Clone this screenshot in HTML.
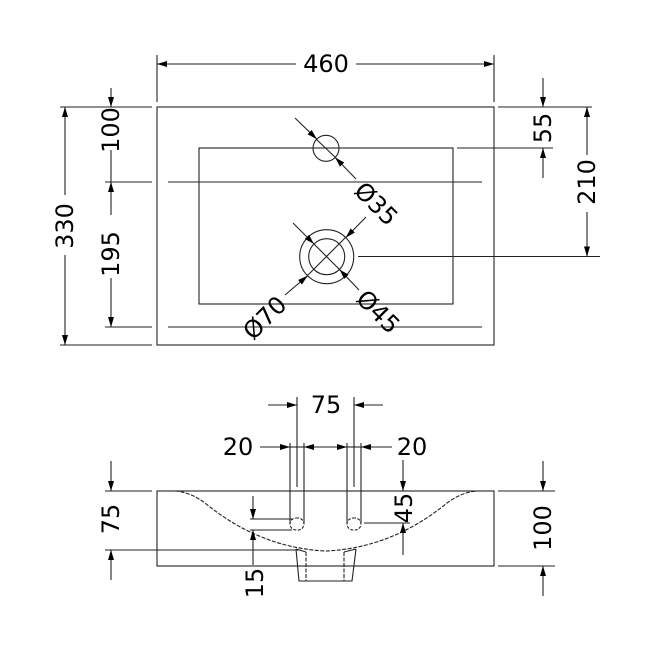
<!DOCTYPE html>
<html><head><meta charset="utf-8"><style>
html,body{margin:0;padding:0;background:#fff}
svg{display:block}
text{font-family:"DejaVu Sans","Liberation Sans",sans-serif;font-size:24px;fill:#000}
</style></head><body>
<svg width="650" height="650" viewBox="0 0 650 650" xmlns="http://www.w3.org/2000/svg">
<defs>
<marker id="a" viewBox="0 0 10 6" refX="10" refY="3" markerWidth="10" markerHeight="6" markerUnits="userSpaceOnUse" orient="auto">
<path d="M0,0 L10,3 L0,6 z" fill="#000"/></marker>
</defs>
<g stroke="#222" stroke-width="1.1" fill="none">
<rect x="157" y="107" width="337" height="238"/>
<rect x="199" y="148" width="254" height="156"/>
<line x1="168" y1="182" x2="482" y2="182"/>
<line x1="168" y1="327" x2="482" y2="327"/>
<line x1="157" y1="55" x2="157" y2="102"/>
<line x1="494" y1="55" x2="494" y2="102"/>
<line x1="296" y1="64" x2="157" y2="64" marker-end="url(#a)"/>
<line x1="356" y1="64" x2="494" y2="64" marker-end="url(#a)"/>
<line x1="60" y1="107" x2="152" y2="107"/>
<line x1="60" y1="345" x2="152" y2="345"/>
<line x1="105" y1="182" x2="152" y2="182"/>
<line x1="105" y1="327" x2="152" y2="327"/>
<line x1="65" y1="195" x2="65" y2="107" marker-end="url(#a)"/>
<line x1="65" y1="255" x2="65" y2="345" marker-end="url(#a)"/>
<line x1="111" y1="88" x2="111" y2="107" marker-end="url(#a)"/>
<line x1="111" y1="150" x2="111" y2="182"/>
<line x1="111" y1="215" x2="111" y2="182" marker-end="url(#a)"/>
<line x1="111" y1="278" x2="111" y2="327" marker-end="url(#a)"/>
<line x1="498" y1="107" x2="592" y2="107"/>
<line x1="457" y1="148" x2="553" y2="148"/>
<line x1="358" y1="256.5" x2="600" y2="256.5"/>
<line x1="543" y1="78" x2="543" y2="107" marker-end="url(#a)"/>
<line x1="543" y1="178" x2="543" y2="148" marker-end="url(#a)"/>
<line x1="587" y1="155" x2="587" y2="107" marker-end="url(#a)"/>
<line x1="587" y1="212" x2="587" y2="256.5" marker-end="url(#a)"/>
<circle cx="326" cy="148.3" r="13"/>
<line x1="295" y1="118" x2="316.8" y2="139.1" marker-end="url(#a)"/>
<line x1="356" y1="179" x2="335.2" y2="157.5" marker-end="url(#a)"/>
<line x1="316" y1="139" x2="336" y2="158"/>
<circle cx="326.7" cy="256.7" r="27"/>
<circle cx="326.7" cy="256.7" r="18"/>
<line x1="293" y1="223" x2="314" y2="244" marker-end="url(#a)"/>
<line x1="359" y1="290" x2="339.5" y2="269.5" marker-end="url(#a)"/>
<line x1="314" y1="244" x2="340" y2="270"/>
<line x1="366" y1="217" x2="345.8" y2="237.6" marker-end="url(#a)"/>
<line x1="285" y1="295" x2="307.6" y2="275.8" marker-end="url(#a)"/>
<line x1="346" y1="237" x2="307" y2="276"/>

<rect x="157" y="491" width="337" height="75"/>
<path d="M175,491 Q190,492 205,503 Q260,548 326,551 Q392,548 447,503 Q462,492 477,491" stroke-dasharray="4,1.5"/>
<line x1="290" y1="443" x2="290" y2="523"/>
<line x1="304" y1="443" x2="304" y2="523"/>
<line x1="347" y1="443" x2="347" y2="523"/>
<line x1="361" y1="443" x2="361" y2="523"/>
<rect x="290" y="518" width="14" height="12" rx="6" stroke-dasharray="3,1.5"/>
<rect x="347" y="518" width="14" height="12" rx="6" stroke-dasharray="3,1.5"/>
<line x1="297" y1="397" x2="297" y2="487"/>
<line x1="354" y1="397" x2="354" y2="487"/>
<path d="M296,549 L299,581 L352,581 L356,549" />
<line x1="306" y1="552" x2="306" y2="581" stroke-dasharray="4,1.5"/>
<line x1="344" y1="552" x2="344" y2="581" stroke-dasharray="4,1.5"/>
<line x1="296" y1="549" x2="306" y2="552"/>
<line x1="356" y1="549" x2="344" y2="552"/>
<line x1="268" y1="405" x2="297" y2="405" marker-end="url(#a)"/>
<line x1="383" y1="405" x2="354" y2="405" marker-end="url(#a)"/>
<line x1="260" y1="447" x2="290" y2="447" marker-end="url(#a)"/>
<line x1="290" y1="447" x2="304" y2="447"/>
<line x1="325" y1="447" x2="304" y2="447" marker-end="url(#a)"/>
<line x1="325" y1="447" x2="347" y2="447" marker-end="url(#a)"/>
<line x1="347" y1="447" x2="361" y2="447"/>
<line x1="392" y1="447" x2="361" y2="447" marker-end="url(#a)"/>
<line x1="105" y1="491" x2="152" y2="491"/>
<line x1="105" y1="550" x2="300" y2="550"/>
<line x1="111" y1="461" x2="111" y2="491" marker-end="url(#a)"/>
<line x1="111" y1="580" x2="111" y2="550" marker-end="url(#a)"/>
<line x1="250" y1="519" x2="292" y2="519"/>
<line x1="250" y1="530" x2="292" y2="530"/>
<line x1="253" y1="496" x2="253" y2="519" marker-end="url(#a)"/>
<line x1="253" y1="565" x2="253" y2="530" marker-end="url(#a)"/>
<line x1="364" y1="523" x2="410" y2="523"/>
<line x1="403" y1="460" x2="403" y2="491" marker-end="url(#a)"/>
<line x1="403" y1="555" x2="403" y2="523" marker-end="url(#a)"/>
<line x1="498" y1="491" x2="555" y2="491"/>
<line x1="498" y1="566" x2="555" y2="566"/>
<line x1="543" y1="461" x2="543" y2="491" marker-end="url(#a)"/>
<line x1="543" y1="596" x2="543" y2="566" marker-end="url(#a)"/>
</g>
<g text-anchor="middle" dominant-baseline="central">
<text x="326" y="64">460</text>
<text transform="translate(65,226) rotate(-90)">330</text>
<text transform="translate(111,130) rotate(-90)">100</text>
<text transform="translate(111,254) rotate(-90)">195</text>
<text transform="translate(543,128) rotate(-90)">55</text>
<text transform="translate(587,182) rotate(-90)">210</text>
<text transform="translate(376,204) rotate(45)">Ø35</text>
<text transform="translate(378,312) rotate(45)">Ø45</text>
<text transform="translate(265,318) rotate(-45)">Ø70</text>
<text x="326" y="405">75</text>
<text x="238" y="447">20</text>
<text x="412" y="447">20</text>
<text transform="translate(111,519) rotate(-90)">75</text>
<text transform="translate(255,583) rotate(-90)">15</text>
<text transform="translate(404,508) rotate(-90)">45</text>
<text transform="translate(543,528) rotate(-90)">100</text>
</g>
</svg>
</body></html>
